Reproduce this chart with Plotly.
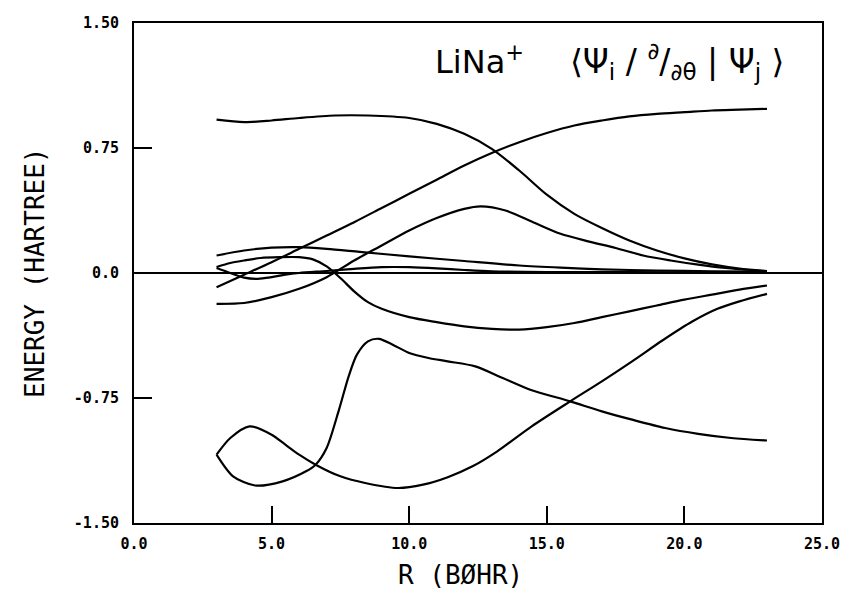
import plotly.graph_objects as go

# ---- data ----
A_R = [3, 4, 5, 6, 7.3, 8.5, 10, 11, 12, 13, 14, 15, 16, 17, 18, 19, 20, 21, 22, 23]
A_V = [0.92, 0.905, 0.915, 0.93, 0.945, 0.945, 0.93, 0.895, 0.835, 0.745, 0.615, 0.47,
       0.355, 0.27, 0.195, 0.135, 0.088, 0.052, 0.027, 0.012]

B_R = [3, 4, 5, 6, 7, 8, 9, 10, 11, 12, 13, 14, 15, 16, 17, 18, 19, 20, 21, 22, 23]
B_V = [-0.085, -0.01, 0.065, 0.145, 0.225, 0.305, 0.39, 0.475, 0.56, 0.645, 0.72,
       0.785, 0.84, 0.885, 0.915, 0.94, 0.955, 0.965, 0.975, 0.98, 0.985]

C_R = [3, 4, 5, 6, 7, 8, 9, 10, 11, 12, 12.6, 13.5, 14.5, 15.5, 16.5, 17.5, 18.5,
       19.5, 20.5, 21.5, 23]
C_V = [-0.185, -0.18, -0.145, -0.095, -0.025, 0.075, 0.165, 0.255, 0.33, 0.385, 0.40,
       0.375, 0.305, 0.235, 0.19, 0.15, 0.105, 0.075, 0.05, 0.03, 0.01]

D_R = [3, 4, 5, 6, 7, 8.2, 10, 12, 14, 15.5, 17, 19, 21, 23]
D_V = [0.105, 0.135, 0.152, 0.155, 0.145, 0.127, 0.1, 0.072, 0.045, 0.032, 0.022,
       0.015, 0.01, 0.008]

E_R = [3, 3.5, 4, 4.6, 5.3, 6, 6.5, 7, 7.5, 8, 8.5, 9, 10, 11, 12, 13, 14, 15, 16,
       17, 18, 19, 20, 21, 22, 23]
E_V = [0.036, 0.06, 0.075, 0.09, 0.095, 0.095, 0.082, 0.04, -0.03, -0.11, -0.175,
       -0.215, -0.265, -0.295, -0.32, -0.335, -0.34, -0.325, -0.3, -0.265, -0.23,
       -0.195, -0.16, -0.13, -0.1, -0.075]

H_R = [3, 3.5, 4, 4.5, 5, 5.5, 6, 7, 8, 9, 10, 11, 12, 13, 15, 18, 23]
H_V = [0.03, 0.0, -0.028, -0.035, -0.025, -0.01, 0.0, 0.012, 0.025, 0.035, 0.035,
       0.028, 0.018, 0.01, 0.006, 0.005, 0.003]

F_R = [3, 3.5, 4.2, 5, 5.5, 6, 6.6, 7.5, 8.4, 9.6, 10.5, 11.4, 12.3, 13.2, 14.45,
       15.85, 17, 18.1, 19.2, 20.3, 21.2, 22, 23]
F_V = [-1.09, -0.99, -0.92, -0.97, -1.03, -1.09, -1.15, -1.22, -1.26, -1.29, -1.27,
       -1.225, -1.16, -1.07, -0.92, -0.77, -0.65, -0.53, -0.405, -0.29, -0.215, -0.17,
       -0.125]

G_R = [3, 3.6, 4.4, 5.4, 6.25, 6.6, 7.0, 7.45, 7.8, 8.1, 8.5, 8.9, 9.4, 10, 10.7,
       11.4, 12.4, 13.4, 14.4, 15.85, 17, 18.1, 19.3, 20.5, 21.7, 23]
G_V = [-1.09, -1.22, -1.275, -1.25, -1.19, -1.15, -1.05, -0.82, -0.62, -0.49, -0.41,
       -0.395, -0.43, -0.48, -0.51, -0.53, -0.56, -0.63, -0.70, -0.77, -0.83, -0.88,
       -0.93, -0.965, -0.99, -1.005]

X_TICKS = [0, 5, 10, 15, 20, 25]
X_LABELS = ["0.0", "5.0", "10.0", "15.0", "20.0", "25.0"]
Y_TICKS = [-1.5, -0.75, 0, 0.75, 1.5]
Y_LABELS = ["-1.50", "-0.75", "0.0", "0.75", "1.50"]

curves = [(A_R, A_V), (B_R, B_V), (C_R, C_V), (D_R, D_V), (E_R, E_V),
          (H_R, H_V), (F_R, F_V), (G_R, G_V)]

fig = go.Figure()
for r, v in curves:
    fig.add_trace(go.Scatter(x=r, y=v, mode="lines",
                             line=dict(color="black", width=2.2, shape="spline",
                                       smoothing=0.8),
                             showlegend=False, hoverinfo="skip"))

tickfont = dict(family="DejaVu Sans Mono", size=15, color="black", weight="bold")
fig.update_layout(
    width=843, height=591,
    margin=dict(l=134, r=21, t=23, b=68, autoexpand=False),
    paper_bgcolor="white", plot_bgcolor="white",
    xaxis=dict(range=[0, 25], tickvals=X_TICKS, ticktext=X_LABELS,
               ticks="inside", ticklen=17, tickwidth=2, tickcolor="black",
               showline=True, linecolor="black", linewidth=2, mirror=True,
               showgrid=False, zeroline=False, tickfont=tickfont,
               ticklabelstandoff=6, ticklabeloverflow="allow", automargin=False),
    yaxis=dict(range=[-1.5, 1.5], tickvals=Y_TICKS, ticktext=Y_LABELS,
               ticks="inside", ticklen=18, tickwidth=2, tickcolor="black",
               showline=True, linecolor="black", linewidth=2, mirror=True,
               showgrid=False, zeroline=True, zerolinecolor="black",
               zerolinewidth=1.6, tickfont=tickfont, ticklabelstandoff=10,
               ticklabeloverflow="allow", automargin=False),
)

fig.add_annotation(xref="paper", yref="paper", x=0.435, y=0.926,
                   xanchor="left", yanchor="middle", showarrow=False,
                   text="LiNa<sup>+</sup>",
                   font=dict(family="DejaVu Sans", size=32, color="black"))
fig.add_annotation(xref="paper", yref="paper", x=0.631, y=0.922,
                   xanchor="left", yanchor="middle", showarrow=False,
                   text="⟨Ψ<sub>i</sub> / <sup>∂</sup>/<sub>∂θ</sub> | Ψ<sub>j</sub> ⟩",
                   font=dict(family="DejaVu Sans", size=33, color="black"))
fig.add_annotation(xref="paper", yref="paper", x=-0.144, y=0.5,
                   xanchor="center", yanchor="middle", showarrow=False,
                   textangle=-90, text="ENERGY (HARTREE)",
                   font=dict(family="DejaVu Sans Mono", size=26, color="black"))
fig.add_annotation(xref="paper", yref="paper", x=0.474, y=-0.104,
                   xanchor="center", yanchor="middle", showarrow=False,
                   text="R (BØHR)",
                   font=dict(family="DejaVu Sans Mono", size=26, color="black"))

fig.write_html("out.html")
